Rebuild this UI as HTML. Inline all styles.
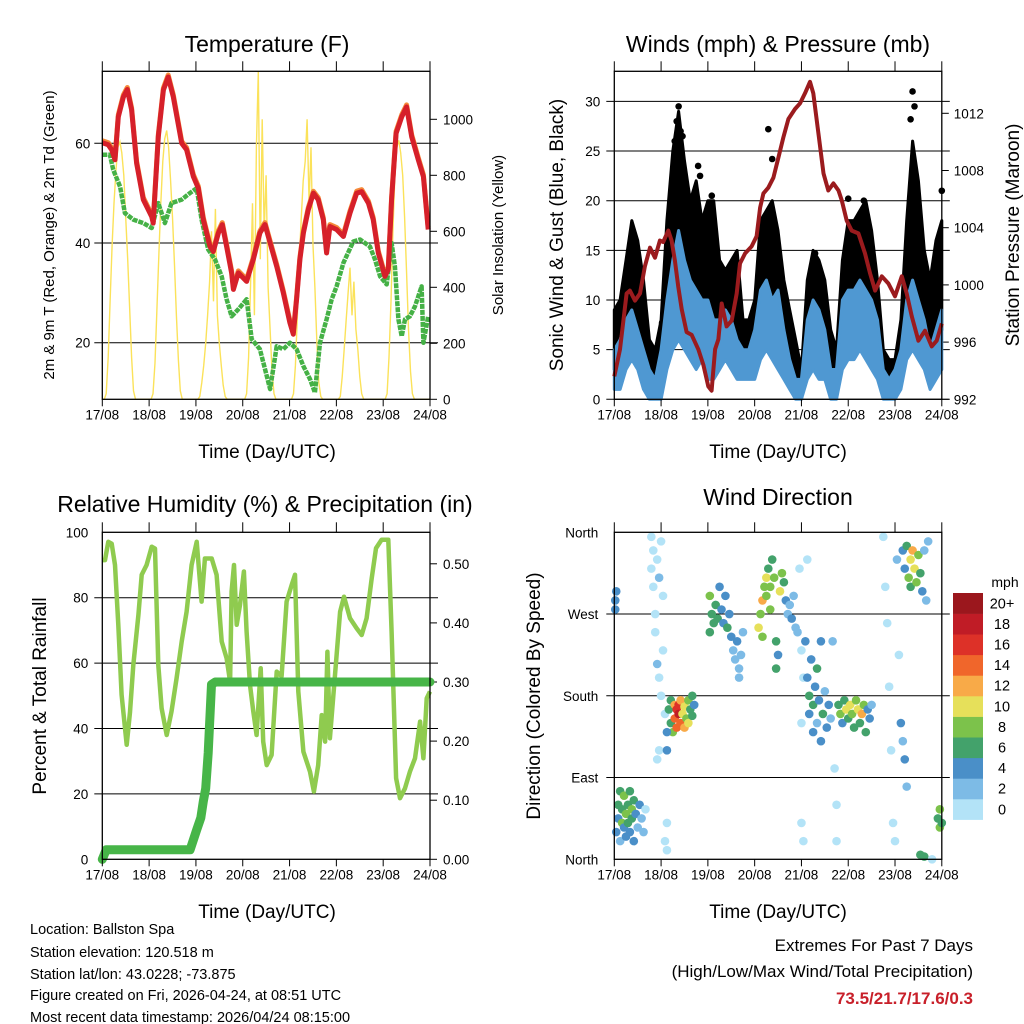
<!DOCTYPE html>
<html><head><meta charset="utf-8"><style>
body{margin:0;background:#fff}
svg{display:block;font-family:"Liberation Sans",Arial,sans-serif}
</style></head><body>
<svg id="s" width="1024" height="1024" viewBox="0 0 1024 1024">
<rect width="1024" height="1024" fill="#fff"/>
<g font-size="23" text-anchor="middle" fill="#000">
<text x="267" y="52">Temperature (F)</text>
<text x="778" y="52">Winds (mph) &amp; Pressure (mb)</text>
<text x="265" y="512">Relative Humidity (%) &amp; Precipitation (in)</text>
<text x="778" y="505">Wind Direction</text>
</g>
<g font-size="19" text-anchor="middle">
<text x="267" y="458">Time (Day/UTC)</text>
<text x="778" y="458">Time (Day/UTC)</text>
<text x="267" y="918">Time (Day/UTC)</text>
<text x="778" y="918">Time (Day/UTC)</text>
<text transform="translate(54,235) rotate(-90)" font-size="15">2m &amp; 9m T (Red, Orange) &amp; 2m Td (Green)</text>
<text transform="translate(503,235) rotate(-90)" font-size="15">Solar Insolation (Yellow)</text>
<text transform="translate(563,235) rotate(-90)">Sonic Wind &amp; Gust (Blue, Black)</text>
<text transform="translate(1019,235) rotate(-90)">Station Pressure (Maroon)</text>
<text transform="translate(46,696) rotate(-90)">Percent &amp; Total Rainfall</text>
<text transform="translate(540,696) rotate(-90)">Direction (Colored By Speed)</text>
</g>
<g font-size="14.5">
<text x="30" y="934">Location: Ballston Spa</text>
<text x="30" y="957">Station elevation: 120.518 m</text>
<text x="30" y="979">Station lat/lon: 43.0228; -73.875</text>
<text x="30" y="1000">Figure created on Fri, 2026-04-24, at 08:51 UTC</text>
<text x="30" y="1022">Most recent data timestamp: 2026/04/24 08:15:00</text>
</g>
<g font-size="17" text-anchor="end">
<text x="973" y="951">Extremes For Past 7 Days</text>
<text x="973" y="977">(High/Low/Max Wind/Total Precipitation)</text>
<text x="973" y="1004" font-weight="bold" fill="#c8202a">73.5/21.7/17.6/0.3</text>
</g>
<g id="g"></g>
</svg>
<script>
const dayLabels=["17/08","18/08","19/08","20/08","21/08","22/08","23/08","24/08"];
const tempHours=[0,3.1,4.8,6.5,8.2,10.8,12.8,15,17.6,21,25.3,26.1,28.7,31.3,33.8,36.4,40.7,43.2,46.7,49.2,51.8,55.2,56.9,59.5,61.5,63.7,66.3,67.2,69.7,74,77.4,80.8,83.4,86,89.4,92.8,96.2,97.9,99.6,101.3,103.1,105.6,108.2,110.7,113.3,115,116.7,120.1,123.6,127,130.4,133,136.4,138.9,141.5,144.9,146.6,148.3,150.6,153.5,156,158.6,162,164.6,167.1];
const tempF=[60.1,59.7,58.7,56.7,65.3,69.3,70.8,66.7,56,48.7,45.3,44,61.3,70.7,73.3,69.3,60,58.7,53.3,51,44.7,39.3,38.3,42,43.7,39.3,34,30.7,34,32.3,36.7,42,43.7,40,35.3,30,24,21.7,28.7,36.7,42,46.7,50,48.7,44.7,38,43.3,42.7,41.3,46,50,50.3,48,44.7,38,33.3,34.7,48.7,62,65.3,67.3,61.3,56.7,53.3,42.7];
const dewHours=[0,3.9,5.6,9.1,11.6,15.9,21,25.3,28.7,32.1,35.5,40.7,44.9,48.4,50.9,54.3,57.8,61.2,63.7,66.3,69.7,74,76.6,80.8,83.4,86,89.4,92.8,96.2,99.6,103.1,106.5,109,111.6,115,117.6,120.1,123.6,128.7,132.1,137.2,139.8,142.4,145.8,148.3,150,151.8,153.5,155.2,157.7,160.3,163.7,164.6,167.1];
const dewF=[57.7,57.7,54.7,51.3,46,44.7,44,43,48,44,48,48.7,50,51,44.7,38.7,36.7,33.3,28.7,25.3,26.7,28.7,20.7,18.7,14.7,10.7,19.3,18.7,20,18.7,15.3,12.7,10,20,24.7,28.7,31.3,36,40.3,40.7,39.3,36.7,33.3,31.7,40,35.3,24.7,21.3,24.7,25.3,27.3,31.3,20,25.3];
const solarW=[
0,0,20,150,350,550,700,820,900,920,880,800,650,500,330,150,30,0,0,0,0,0,0,0,
0,0,20,130,320,520,700,850,930,960,900,780,650,480,300,140,30,0,0,0,0,0,0,0,
0,0,10,60,120,200,300,420,600,350,680,300,200,120,50,10,0,0,0,0,0,0,0,0,
0,0,20,150,400,700,300,900,1170,500,1000,600,800,400,250,100,20,0,0,0,0,0,0,0,
0,0,20,120,300,500,650,780,850,1000,700,900,550,400,200,60,10,0,0,0,0,0,0,0,
0,0,10,80,180,280,380,470,300,420,250,180,80,20,0,0,0,0,0,0,0,0,0,0,
0,0,20,150,350,600,800,900,925,880,800,650,450,250,100,20,0,0,0,0,0,0,0,0,0];
const presHours=[0,2.9,6.3,8,10.6,13.2,15.7,18.3,20.9,23.4,25.1,27.7,29.4,31.1,32.8,34.6,37.1,39.7,43.1,45.7,48.2,49.9,51.7,53.4,55.1,57.6,60.2,62.8,64.5,67.1,70.5,73,74.8,76.5,79,81.6,84.2,86.7,89.3,92.7,95.3,97.8,100.4,102.1,104.7,107.3,109.8,112.4,115,116.7,119.2,121.8,125.2,128.6,131.2,133.8,137.2,140.6,144,147.5,150,152.6,156,159.4,162.8,165.4,168];
const presMb=[993.6,995.5,999.4,999.6,998.9,999.4,1001.3,1002.6,1001.9,1003.1,1003,1003.8,1003.1,1001.7,999.9,998.3,996.7,996.5,995.5,994.4,992.9,992.6,995.5,996.2,998.7,997.1,997.5,999.4,1001.5,1002.2,1002.7,1003.4,1005.4,1006.4,1006.8,1007.5,1008.9,1010.3,1011.6,1012.3,1012.7,1013.4,1014.2,1013.4,1010.6,1007.8,1006.6,1007.1,1006.6,1005.9,1004.5,1003.8,1003.6,1002.2,1000.8,999.6,1000.6,1000.1,999.2,1000.6,999.4,997.8,996.1,996.8,995.7,996.1,997.3];
const windHours=[0,3,6,9,12,15,18,21,24,27,30,33,36,39,42,45,48,51,54,57,60,63,66,69,72,75,78,81,84,87,90,93,96,99,102,105,108,111,114,117,120,123,126,129,132,135,138,141,144,147,150,153,156,159,162,165,168];
const windLow=[1,1,3,4,3,1,0,0,0,3,5,6,5,4,3,4,2,2,3,4,3,2,2,2,2,4,5,4,3,2,1,0,0,2,3,2,2,0,0,3,4,4,5,4,3,2,0,0,0,1,4,5,4,3,1,2,3];
const windHigh=[5,6,8,9,7,5,3,2,5,10,14,17,14,12,11,10,10,8,8,9,8,6,5,5,7,11,12,10,11,7,4,2,2,8,10,9,7,3,3,10,11,11,12,11,10,8,3,2,3,5,10,12,10,8,5,7,9];
const gustLow=[3,3,5,7,6,3,1,1,1,8,12,14,12,10,8,9,4,5,6,6,5,4,3,3,4,8,10,8,8,4,2,1,0,4,6,5,4,1,1,6,8,9,10,9,6,4,1,1,1,2,7,12,9,6,3,5,7];
const gustHigh=[9,10,14,18,16,12,6,5,8,18,25,29,24,20,22,18,20,20,14,13,14,15,8,8,10,18,19,20,17,12,9,6,3,12,15,14,12,7,5,14,18,18,19,20,17,12,5,4,4,8,18,26,22,15,12,16,18];
const gustPeakHours=[32,33,34,79,81,152,153,154,168,50,43,103,120,128,24.5,44,31,35];
const gustPeakMph=[28,29.5,27,27.2,24.2,28.2,31,29.5,21,20.5,23.5,14.7,20.2,20,7.7,22.5,26,26.5];
const rhHours=[0,1.4,3.1,4.8,6.5,8.2,9.9,12.5,14.2,15.9,18.5,20.2,22.7,25.3,27,28.7,30.4,33,35.5,38.1,40.7,43.2,45.8,48.4,50.9,52.6,56.1,58.6,61.2,63.7,65.5,66.3,67.5,68.9,70.6,72.6,74,75.7,77.4,79.1,81.2,82.5,84.3,86.8,89.4,91.9,94.5,97.1,98.8,100.5,103.1,106.5,108.5,110.7,112.5,114.2,115.4,116.7,119.3,121.9,123.9,127,130.4,133,135.5,138.1,140.3,143.2,146.6,148.3,150.6,152.6,155.2,157.7,160.3,162.9,164.6,166.3,168];
const rhPct=[91.5,91.5,97.1,96.5,90,71.7,50.3,35,45,59.4,74.7,87,90,95.6,95,59.4,46.2,38,45.2,55.4,66.6,75.7,90,97.1,78.8,92,92,87,66.6,61.5,54.3,81.9,90,71.7,77.8,88,69.6,53.3,45.2,38,58.4,36,28.8,31.9,57.4,56,78.8,83.9,87,51.3,32.9,26.8,20.7,28.8,44.1,36,63.5,37,56.4,75.7,80.3,73.7,70.6,68.6,73.7,85.9,95.1,97.7,97.7,69.6,24.8,18.7,21.7,26.8,30.9,42.1,30.9,49.2,51.3];
const rainHours=[0,2,45,48.4,50.5,51.8,53,54.3,56,58,168];
const rainIn=[0,0.016,0.016,0.05,0.07,0.098,0.12,0.18,0.296,0.30,0.30];
const dirHours=[0.5,0.5,1,1,2,2,3,3,4,4,5,5,6,6,7,7,8,8,9,9,10,10,11,12,13,14,15,16,
19,19,20,20,21,21,22,22,23,23,24,24,25,25,26,26,27,27,22,23,
28,29,29,30,31,31,32,32,33,33,34,34,35,36,36,37,38,38,39,40,40,41,27,27,
49,49,50,51,52,53,54,55,56,57,58,59,60,61,62,63,64,65,66,64,
74,75,76,76,77,78,78,79,80,80,81,82,83,83,84,85,86,87,
88,89,90,91,92,93,94,95,96,96,96,97,97,99,
98,99,100,100,101,102,102,103,104,104,105,106,106,107,108,109,110,111,112,113,114,114,
115,116,117,118,119,120,121,122,123,124,125,126,127,128,129,130,131,132,
138,139,140,141,142,143,144,145,146,147,148,149,150,
148,149,150,151,152,152,153,154,155,156,157,158,159,160,161,
157,159,166,167,167,168,163];
const dirDeg=[285,275,295,30,45,60,20,75,40,55,35,70,50,25,60,40,75,30,55,45,65,20,50,35,60,45,30,55,
355,320,300,340,270,250,330,215,200,310,350,180,290,230,160,20,40,10,110,120,
165,175,150,140,170,155,165,145,160,170,150,175,160,145,168,155,175,150,165,180,158,170,140,120,
290,250,270,260,280,265,300,275,260,290,255,270,245,230,220,240,210,225,250,200,
255,270,285,245,300,310,290,320,300,275,330,310,240,210,225,295,315,305,
285,270,280,265,290,255,250,320,230,150,40,20,200,330,
240,200,180,160,220,170,140,190,150,210,175,130,240,160,185,145,170,155,240,100,60,20,
170,160,150,175,165,155,170,160,145,175,165,150,160,170,140,165,155,170,
355,300,260,190,120,40,20,330,225,150,130,110,80,
340,320,345,310,330,300,340,320,305,335,315,295,340,285,350,
5,3,45,35,55,40,0];
const dirMph=[4,4,4,4,4,6,3,6,8,6,4,8,8,5,7,6,6,4,8,6,7,4,5,3,4,2,2,1,
0,1,1,0,1,1,1,2,1,2,0,0,1,1,0,1,1,0,0,1,
6,7,6,8,12,14,16,14,18,16,14,12,10,12,10,8,8,10,6,6,7,5,4,4,
8,6,7,6,6,7,4,5,4,4,6,5,5,3,3,4,2,3,2,2,
10,8,12,8,9,10,8,7,9,8,6,8,6,6,5,10,8,6,
4,3,2,4,2,3,2,1,1,1,0,0,1,1,
4,4,6,5,4,7,5,5,3,6,4,4,5,6,3,4,5,3,3,1,1,1,
7,8,5,6,10,7,10,8,6,9,10,7,12,8,6,5,4,3,
0,1,1,0,1,1,0,2,1,4,3,4,2,
4,5,6,8,10,6,12,10,8,9,6,4,2,2,3,
6,7,6,8,9,7,1];
const speedLabels=["0","2","4","6","8","10","12","14","16","18","20+"];
const speedColors=["#b3e3f7","#7dbbe6","#4a8fc8","#43a26b","#7cc24b","#e6e05a","#f8aa48","#f0662b","#dd3128","#c01c26","#9b171d"];

const NS="http://www.w3.org/2000/svg",G=document.getElementById('g');
function mk(t,a,p){const e=document.createElementNS(NS,t);for(const k in a)e.setAttribute(k,a[k]);(p||G).appendChild(e);return e;}
function txt(x,y,s,anchor,size){const e=mk('text',{x:x,y:y,'text-anchor':anchor,'font-size':size||13.5});e.textContent=s;return e;}
function pathOf(xs,ys,fx,fy){return xs.map((h,i)=>(i?'L':'M')+fx(h).toFixed(1)+','+fy(ys[i]).toFixed(1)).join('');}

const L1=102.3,R1=430,L2=614.3,R2=941.8;
const X=h=>L1+h/168*(R1-L1), WX=h=>L2+h/168*(R2-L2);
const Ty=v=>342.7-(v-20)*4.985, Sy=v=>399.3-v*0.28;
const Wy=s=>399.3-s*9.93, Py=p=>399.3-(p-992)*14.3;
const Ry=v=>859.3-v*3.27, Pry=v=>859.3-v*591;
const Dy=d=>859.3-d/360*327;

function frame(l,t,r,b,name){
  const g=mk('g',{});
  
  
  mk('rect',{x:l,y:t,width:r-l,height:b-t,fill:'none',stroke:'#000','stroke-width':1.3},g);
  for(let d=0;d<8;d++){const x=l+d*(r-l)/7;
    mk('line',{x1:x,y1:t,x2:x,y2:t-10,stroke:'#000','stroke-width':1},g);
    mk('line',{x1:x,y1:b,x2:x,y2:b+7,stroke:'#000','stroke-width':1},g);
    const e=txt(x,b+20,dayLabels[d],'middle',13.5);
    
    
  }
}
function hgrid(l,r,y){const e=mk('line',{x1:l-8,y1:y,x2:r+8,y2:y,stroke:'#000','stroke-width':1});
  
  }

// Temperature
[20,40,60].forEach(v=>{hgrid(L1,R1,Ty(v));const e=txt(L1-12,Ty(v)+5,String(v),'end');
  
  });
[0,200,400,600,800,1000].forEach(v=>{mk('line',{x1:R1,y1:Sy(v),x2:R1+7,y2:Sy(v),stroke:'#000'});const e=txt(R1+13,Sy(v)+5,String(v),'start');
  
  });
let sp=mk('path',{d:pathOf(solarW.map((v,i)=>i),solarW,X,Sy),fill:'none',stroke:'#fbe25a','stroke-width':1.4});


let dp=mk('path',{d:pathOf(dewHours,dewF,X,Ty),fill:'none',stroke:'#45b146','stroke-width':4.5,'stroke-dasharray':'5 1','stroke-linejoin':'round'});


let op=mk('path',{d:pathOf(tempHours,tempF.map(v=>v+0.4),X,Ty),fill:'none',stroke:'#f58a3a','stroke-width':5,'stroke-linejoin':'round'});


let rp=mk('path',{d:pathOf(tempHours,tempF,X,Ty),fill:'none',stroke:'#d6202a','stroke-width':5,'stroke-linejoin':'round'});


frame(L1,71.3,R1,399.3,'temperature-frame');

// Winds
[0,5,10,15,20,25,30].forEach(v=>{hgrid(L2,R2,Wy(v));const e=txt(L2-14,Wy(v)+5,String(v),'end');
  
  });
[992,996,1000,1004,1008,1012].forEach(v=>{mk('line',{x1:R2,y1:Py(v),x2:R2+7,y2:Py(v),stroke:'#000'});const e=txt(R2+12,Py(v)+5,String(v),'start');
  
  });
function band(hs,lo,hi,col,name){
  const d=hs.map((h,i)=>(i?'L':'M')+WX(h).toFixed(1)+','+Wy(hi[i]).toFixed(1)).join('')+
    hs.slice().reverse().map((h,j)=>{const i=hs.length-1-j;return 'L'+WX(h).toFixed(1)+','+Wy(lo[i]).toFixed(1);}).join('')+'Z';
  const e=mk('path',{d:d,fill:col,stroke:col,'stroke-width':3,'stroke-linejoin':'round'});
  
  
}
band(windHours,gustLow,gustHigh,'#000','gust-band');
gustPeakHours.forEach((h,i)=>{const c=mk('circle',{cx:WX(h),cy:Wy(gustPeakMph[i]),r:3.3,fill:'#000'});
  
  });
band(windHours,windLow,windHigh,'#4f98d2','wind-speed-band');
let pp=mk('path',{d:pathOf(presHours,presMb,WX,Py),fill:'none',stroke:'#9b1b1e','stroke-width':4,'stroke-linejoin':'round'});


frame(L2,71.3,R2,399.3,'winds-frame');

// Humidity
[20,40,60,80].forEach(v=>hgrid(L1,R1,Ry(v)));
[0,20,40,60,80,100].forEach(v=>{const e=txt(L1-14,Ry(v)+5,String(v),'end');
  
  });
[0,0.1,0.2,0.3,0.4,0.5].forEach(v=>{mk('line',{x1:R1,y1:Pry(v),x2:R1+7,y2:Pry(v),stroke:'#000'});const e=txt(R1+13,Pry(v)+5,v.toFixed(2),'start');
  
  });
let hp=mk('path',{d:pathOf(rhHours,rhPct,X,Ry),fill:'none',stroke:'#8fcb4f','stroke-width':4.5,'stroke-linejoin':'round'});


let pr=mk('path',{d:pathOf(rainHours,rainIn,X,Pry),fill:'none',stroke:'#47b548','stroke-width':9,'stroke-linejoin':'round','stroke-linecap':'round'});


frame(L1,532.3,R1,859.3,'humidity-frame');

// Wind direction
[90,180,270].forEach(v=>hgrid(L2,R2,Dy(v)));
[["North",0],["East",90],["South",180],["West",270],["North",360]].forEach(a=>{const e=txt(L2-16,Dy(a[1])+5,a[0],'end');
  
  });
dirHours.forEach((h,i)=>{const k=Math.min(10,Math.floor(dirMph[i]/2));
  const c=mk('circle',{cx:WX(h),cy:Dy(dirDeg[i]),r:4.3,fill:speedColors[k]});
  
  });
frame(L2,532.3,R2,859.3,'direction-frame');

let lt=txt(1005,587,'mph','middle',14);


const rowH=20.6;
speedLabels.forEach((s,i)=>{const y=593+(10-i)*rowH;
  const r=mk('rect',{x:953,y:y,width:30,height:rowH+0.3,fill:speedColors[i]});
  
  
  const t=txt(1002,y+rowH/2+5,s,'middle',14.5);
  
  
});
</script>
</body></html>
